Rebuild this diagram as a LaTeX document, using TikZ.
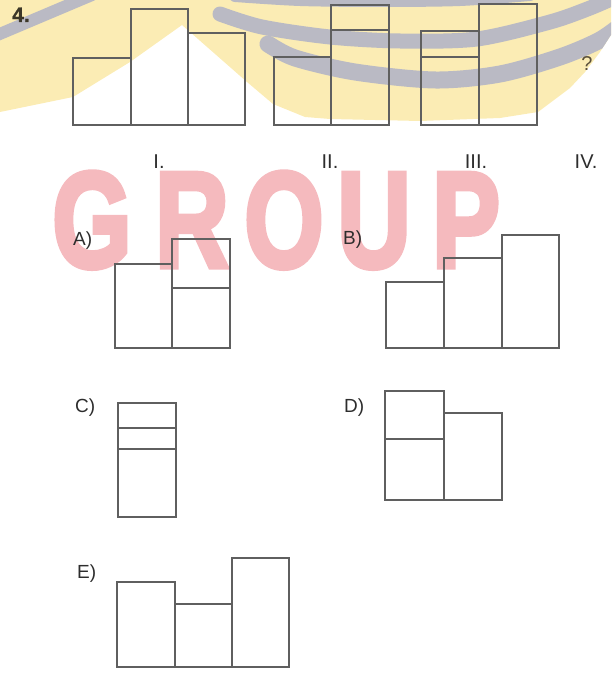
\documentclass[tikz,border=0pt]{standalone}
\usepackage{fontspec}
\setmainfont{Liberation Sans}
\newfontfamily\wmfont{Liberation Sans Bold}[FakeBold=4]
\newfontfamily\numfont{Liberation Sans Bold}[FakeBold=1]
\definecolor{wmyellow}{RGB}{251,236,180}
\definecolor{wmgray}{RGB}{186,186,196}
\definecolor{wmpink}{RGB}{245,186,190}
\definecolor{linegray}{RGB}{95,95,95}
\definecolor{txtgray}{RGB}{45,45,45}
\tikzset{
  fig/.style={draw=linegray, line width=1.3pt, line join=miter},
  optlbl/.style={anchor=base west, inner sep=0pt, text=txtgray, font=\fontsize{19}{22}\selectfont},
  romlbl/.style={anchor=base, inner sep=0pt, text=txtgray, font=\fontsize{20}{24}\selectfont},
  wmletter/.style={anchor=base, inner sep=0pt, text=wmpink, xscale=0.75, font=\wmfont\fontsize{136}{150}\selectfont},
  band/.style={draw=wmgray, line cap=round}
}
\begin{document}
\begin{tikzpicture}[x=1pt,y=-1pt]
\useasboundingbox (0,0) rectangle (611,676);
% ---- watermark ----
\def\wmregion{(0,0) -- (611,0) -- (611,35) -- (600,52) -- (585,72) -- (570,88) -- (550,103) -- (538,112)
  -- (500,118) -- (420,121) -- (330,119) -- (305,117) -- (273,104) -- (247,82) -- (182,25)
  -- (130,62) -- (73,97) -- (0,112) -- cycle}
\fill[wmyellow] \wmregion;
\begin{scope}
  \clip \wmregion;
  \draw[band, line width=12pt] plot[smooth] coordinates {(235,-4) (300,0) (380,1) (460,0) (530,-5)};
  \draw[band, line width=15pt] plot[smooth] coordinates {(220,14) (262,27) (330,37) (400,41) (477,39) (550,22) (590,8) (620,-5)};
  \draw[band, line width=17pt] plot[smooth] coordinates {(268,44) (295,58) (355,72) (435,80) (500,74) (560,57) (600,40) (625,22)};
  \draw[band, line width=12pt] (-5,36) -- (92,-5);
\end{scope}
\node[wmletter] (wmG) at (92,267) {G};
\node[wmletter] (wmR) at (192,267) {R};
\node[wmletter] (wmO) at (284,267) {O};
\node[wmletter] (wmU) at (374,267) {U};
\node[wmletter] (wmP) at (466,267) {P};
% ---- question number ----
\node[anchor=base west, inner sep=0pt, text={rgb,255:red,60;green,55;blue,40}, font=\numfont\fontsize{21}{24}\selectfont] (qnum) at (12,22) {4.};
% ---- figure I ----
\draw[fig] (73,58) rectangle (131,125);
\draw[fig] (131,9) rectangle (188,125);
\draw[fig] (188,33) rectangle (245,125);
% ---- figure II ----
\draw[fig] (274,57) rectangle (331,125);
\draw[fig] (331,5) rectangle (389,125);
\draw[fig] (331,30) -- (389,30);
% ---- figure III ----
\draw[fig] (421,31) rectangle (479,125);
\draw[fig] (421,57) -- (479,57);
\draw[fig] (479,4) rectangle (537,125);
% ---- ? ----
\node[romlbl, text={rgb,255:red,90;green,80;blue,60}] (qmark) at (587,71) {?};
% ---- roman labels ----
\node[romlbl] (rI) at (159,169) {I.};
\node[romlbl] (rII) at (330,169) {II.};
\node[romlbl] (rIII) at (476,169) {III.};
\node[romlbl] (rIV) at (586,169) {IV.};
% ---- A ----
\node[optlbl] (lA) at (73,245) {A)};
\draw[fig] (115,264) rectangle (172,348);
\draw[fig] (172,239) rectangle (230,348);
\draw[fig] (172,288) -- (230,288);
% ---- B ----
\node[optlbl] (lB) at (343,244) {B)};
\draw[fig] (386,282) rectangle (444,348);
\draw[fig] (444,258) rectangle (502,348);
\draw[fig] (502,235) rectangle (559,348);
% ---- C ----
\node[optlbl] (lC) at (75,412) {C)};
\draw[fig] (118,403) rectangle (176,517);
\draw[fig] (118,428) -- (176,428);
\draw[fig] (118,449) -- (176,449);
% ---- D ----
\node[optlbl] (lD) at (344,412) {D)};
\draw[fig] (385,391) rectangle (444,500);
\draw[fig] (385,439) -- (444,439);
\draw[fig] (444,413) rectangle (502,500);
% ---- E ----
\node[optlbl] (lE) at (77,578) {E)};
\draw[fig] (117,582) rectangle (175,667);
\draw[fig] (175,604) rectangle (232,667);
\draw[fig] (232,558) rectangle (289,667);
\end{tikzpicture}
\end{document}
